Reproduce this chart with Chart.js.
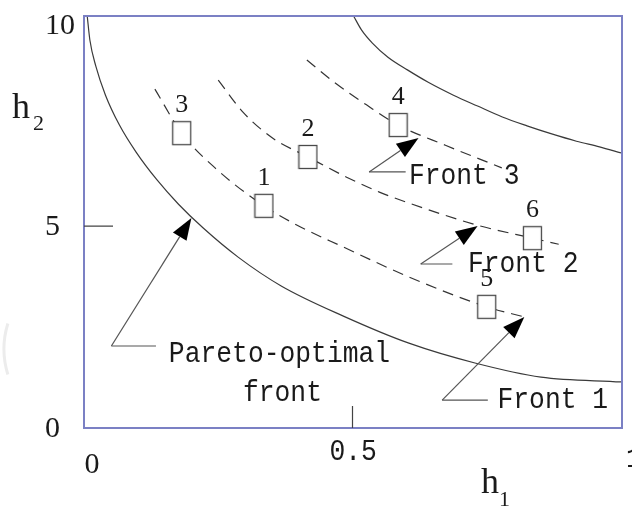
<!DOCTYPE html>
<html>
<head>
<meta charset="utf-8">
<script src="https://cdn.jsdelivr.net/npm/chart.js@4.4.0/dist/chart.umd.min.js"></script>
<style>
  body { margin: 0; background: #fff; }
  #wrap { width: 632px; height: 508px; }
</style>
</head>
<body>
<div id="wrap"><canvas id="paretoChart" width="632" height="508"></canvas></div>
<script>
// curves (h1, h2)
const paretoX = [0.006, 0.011, 0.022, 0.040, 0.066, 0.097, 0.136, 0.176, 0.222, 0.287, 0.368, 0.483, 0.605, 0.728, 0.851, 1.0];
const paretoY = [10.2, 9.60, 8.96, 8.24, 7.50, 6.83, 6.14, 5.54, 4.95, 4.23, 3.51, 2.77, 2.10, 1.61, 1.26, 1.14];
const upperX = [0.502, 0.517, 0.537, 0.566, 0.603, 0.641, 0.688, 0.733, 0.779, 0.825, 0.871, 0.917, 0.960, 1.0];
const upperY = [10.2, 9.85, 9.53, 9.18, 8.86, 8.56, 8.24, 7.97, 7.70, 7.48, 7.28, 7.10, 6.96, 6.81];
const front1X = [0.132, 0.182, 0.244, 0.335, 0.397, 0.483, 0.605, 0.750, 0.820];
const front1Y = [8.39, 7.30, 6.44, 5.50, 5.02, 4.48, 3.74, 3.00, 2.75];
const front2X = [0.250, 0.296, 0.351, 0.417, 0.489, 0.550, 0.605, 0.733, 0.835, 0.884];
const front2Y = [8.61, 7.82, 7.18, 6.71, 6.21, 5.84, 5.57, 5.02, 4.70, 4.55];
const front3X = [0.415, 0.471, 0.526, 0.585, 0.673, 0.778];
const front3Y = [9.11, 8.51, 8.00, 7.50, 7.00, 6.44];

// solutions (boxes)
const solNames = ['3', '1', '2', '4', '6', '5'];
const solX = [0.182, 0.335, 0.417, 0.585, 0.835, 0.750];
const solY = [7.30, 5.50, 6.71, 7.50, 4.70, 3.00];

// annotations: arrow tail, tip, leader end, text
const noteTexts = [['Pareto-optimal', 'front'], ['Front 1'], ['Front 2'], ['Front 3']];
const noteTailX = [0.051, 0.667, 0.627, 0.531];
const noteTailY = [2.03, 0.69, 4.06, 6.34];
const noteTipX = [0.200, 0.820, 0.733, 0.623];
const noteTipY = [5.20, 2.75, 5.00, 7.18];
const noteLeadX = [0.134, 0.752, 0.686, 0.599];
const noteTextX = [[0.158, 0.296], [0.770], [0.715], [0.605]];
const noteTextY = [[1.63, 0.67], [0.50], [3.86], [6.04]];

const xTicks = ['0', '0.5', '1'];
const yTicks = ['0', '5', '10'];

function pts(xs, ys) {
    return xs.map((x, i) => ({ x: x, y: ys[i] }));
}

// open box marker
const box = document.createElement('canvas');
box.width = 21;
box.height = 26;
const bctx = box.getContext('2d');
bctx.fillStyle = '#fff';
bctx.fillRect(1, 1, 19, 24);
bctx.strokeStyle = '#4a4a4a';
bctx.lineWidth = 1.3;
bctx.strokeRect(1.5, 1.5, 18, 23);

const SERIF = '"Liberation Serif", "DejaVu Serif", serif';
const MONO = '"Liberation Mono", "DejaVu Sans Mono", monospace';

function mono(ctx, text, x, y) {
    ctx.save();
    ctx.font = '30px ' + MONO;
    ctx.translate(x, y);
    ctx.scale(0.878, 1);
    ctx.textAlign = 'left';
    ctx.textBaseline = 'alphabetic';
    ctx.fillText(text, 0, 0);
    ctx.restore();
}

function arrow(ctx, x0, y0, x1, y1) {
    const a = Math.atan2(y1 - y0, x1 - x0);
    const len = 22, hw = 8;
    const bx = x1 - len * Math.cos(a), by = y1 - len * Math.sin(a);
    ctx.beginPath();
    ctx.moveTo(x0, y0);
    ctx.lineTo(bx, by);
    ctx.stroke();
    ctx.beginPath();
    ctx.moveTo(x1, y1);
    ctx.lineTo(bx + hw * Math.sin(a), by - hw * Math.cos(a));
    ctx.lineTo(bx - hw * Math.sin(a), by + hw * Math.cos(a));
    ctx.closePath();
    ctx.fill();
}

const decor = {
    id: 'decor',
    afterDraw(chart) {
        const ctx = chart.ctx;
        const xs = chart.scales.x, ys = chart.scales.y;
        const a = chart.chartArea;
        ctx.save();

        // faint scan artefact at the left edge
        ctx.strokeStyle = '#ececec';
        ctx.lineWidth = 3;
        ctx.beginPath();
        ctx.arc(90.5, 349, 86.5, Math.PI - 0.3, Math.PI + 0.3);
        ctx.stroke();

        // frame
        ctx.strokeStyle = '#7b80c4';
        ctx.lineWidth = 2;
        ctx.strokeRect(a.left, a.top, a.right - a.left + 1, a.bottom - a.top);

        // inner tick marks
        ctx.strokeStyle = '#444';
        ctx.lineWidth = 1.2;
        ctx.beginPath();
        ctx.moveTo(a.left, ys.getPixelForValue(5));
        ctx.lineTo(a.left + 29, ys.getPixelForValue(5));
        ctx.moveTo(xs.getPixelForValue(0.5), a.bottom);
        ctx.lineTo(xs.getPixelForValue(0.5), a.bottom - 22);
        ctx.stroke();

        // tick labels
        ctx.fillStyle = '#1a1a1a';
        ctx.font = '30px ' + SERIF;
        ctx.textAlign = 'left';
        ctx.textBaseline = 'alphabetic';
        const yNudge = [9, 9, 10];
        yTicks.forEach((t, i) => {
            ctx.fillText(t, 45, ys.getPixelForValue(Number(t)) + yNudge[i]);
        });
        ctx.textAlign = 'center';
        ctx.fillText(xTicks[0], xs.getPixelForValue(0) + 8, a.bottom + 45);
        mono(ctx, xTicks[1], xs.getPixelForValue(0.5) - 23, a.bottom + 32);
        mono(ctx, xTicks[2], xs.getPixelForValue(1) + 5, a.bottom + 39);

        // axis titles
        ctx.textAlign = 'left';
        ctx.font = '36px ' + SERIF;
        ctx.fillText('h', 12, 118);
        ctx.fillText('h', 481, 493);
        ctx.font = '22px ' + SERIF;
        ctx.fillText('2', 33, 130);
        ctx.fillText('1', 499, 506);

        // solution numbers
        ctx.font = '26px ' + SERIF;
        ctx.textAlign = 'center';
        solNames.forEach((n, i) => {
            ctx.fillText(n, xs.getPixelForValue(solX[i]), ys.getPixelForValue(solY[i]) - 21);
        });

        // annotations
        ctx.strokeStyle = '#555';
        ctx.fillStyle = '#000';
        ctx.lineWidth = 1.2;
        noteTexts.forEach((lines, i) => {
            const tx = xs.getPixelForValue(noteTailX[i]);
            const ty = ys.getPixelForValue(noteTailY[i]);
            ctx.beginPath();
            ctx.moveTo(xs.getPixelForValue(noteLeadX[i]), ty);
            ctx.lineTo(tx, ty);
            ctx.stroke();
            arrow(ctx, tx, ty, xs.getPixelForValue(noteTipX[i]), ys.getPixelForValue(noteTipY[i]));
        });
        ctx.fillStyle = '#1a1a1a';
        noteTexts.forEach((lines, i) => {
            lines.forEach((s, j) => {
                mono(ctx, s, xs.getPixelForValue(noteTextX[i][j]), ys.getPixelForValue(noteTextY[i][j]));
            });
        });
        ctx.restore();
    }
};

const solidLine = { showLine: true, pointRadius: 0, borderColor: '#3a3a3a', borderWidth: 1.2, cubicInterpolationMode: 'monotone', fill: false };
const dashLine = Object.assign({}, solidLine, { borderDash: [11, 7], borderColor: '#333' });

const CHART = document.getElementById('paretoChart');
let paretoChart = new Chart(CHART, {
    type: 'scatter',
    data: {
        datasets: [
            { label: 'solutions', data: pts(solX, solY), pointStyle: box, pointRadius: 10, showLine: false },
            Object.assign({ label: 'Pareto-optimal front', data: pts(paretoX, paretoY) }, solidLine),
            Object.assign({ label: 'upper front', data: pts(upperX, upperY) }, solidLine),
            Object.assign({ label: 'Front 1', data: pts(front1X, front1Y) }, dashLine),
            Object.assign({ label: 'Front 2', data: pts(front2X, front2Y) }, dashLine),
            Object.assign({ label: 'Front 3', data: pts(front3X, front3Y) }, dashLine)
        ]
    },
    options: {
        responsive: false,
        animation: false,
        layout: { padding: { left: 84, top: 16, right: 4, bottom: 80 } },
        plugins: { legend: { display: false }, tooltip: { enabled: false } },
        scales: {
            x: { type: 'linear', min: 0, max: 1, display: false },
            y: { type: 'linear', min: 0, max: 10.2, display: false }
        }
    },
    plugins: [decor]
});
</script>
</body>
</html>
